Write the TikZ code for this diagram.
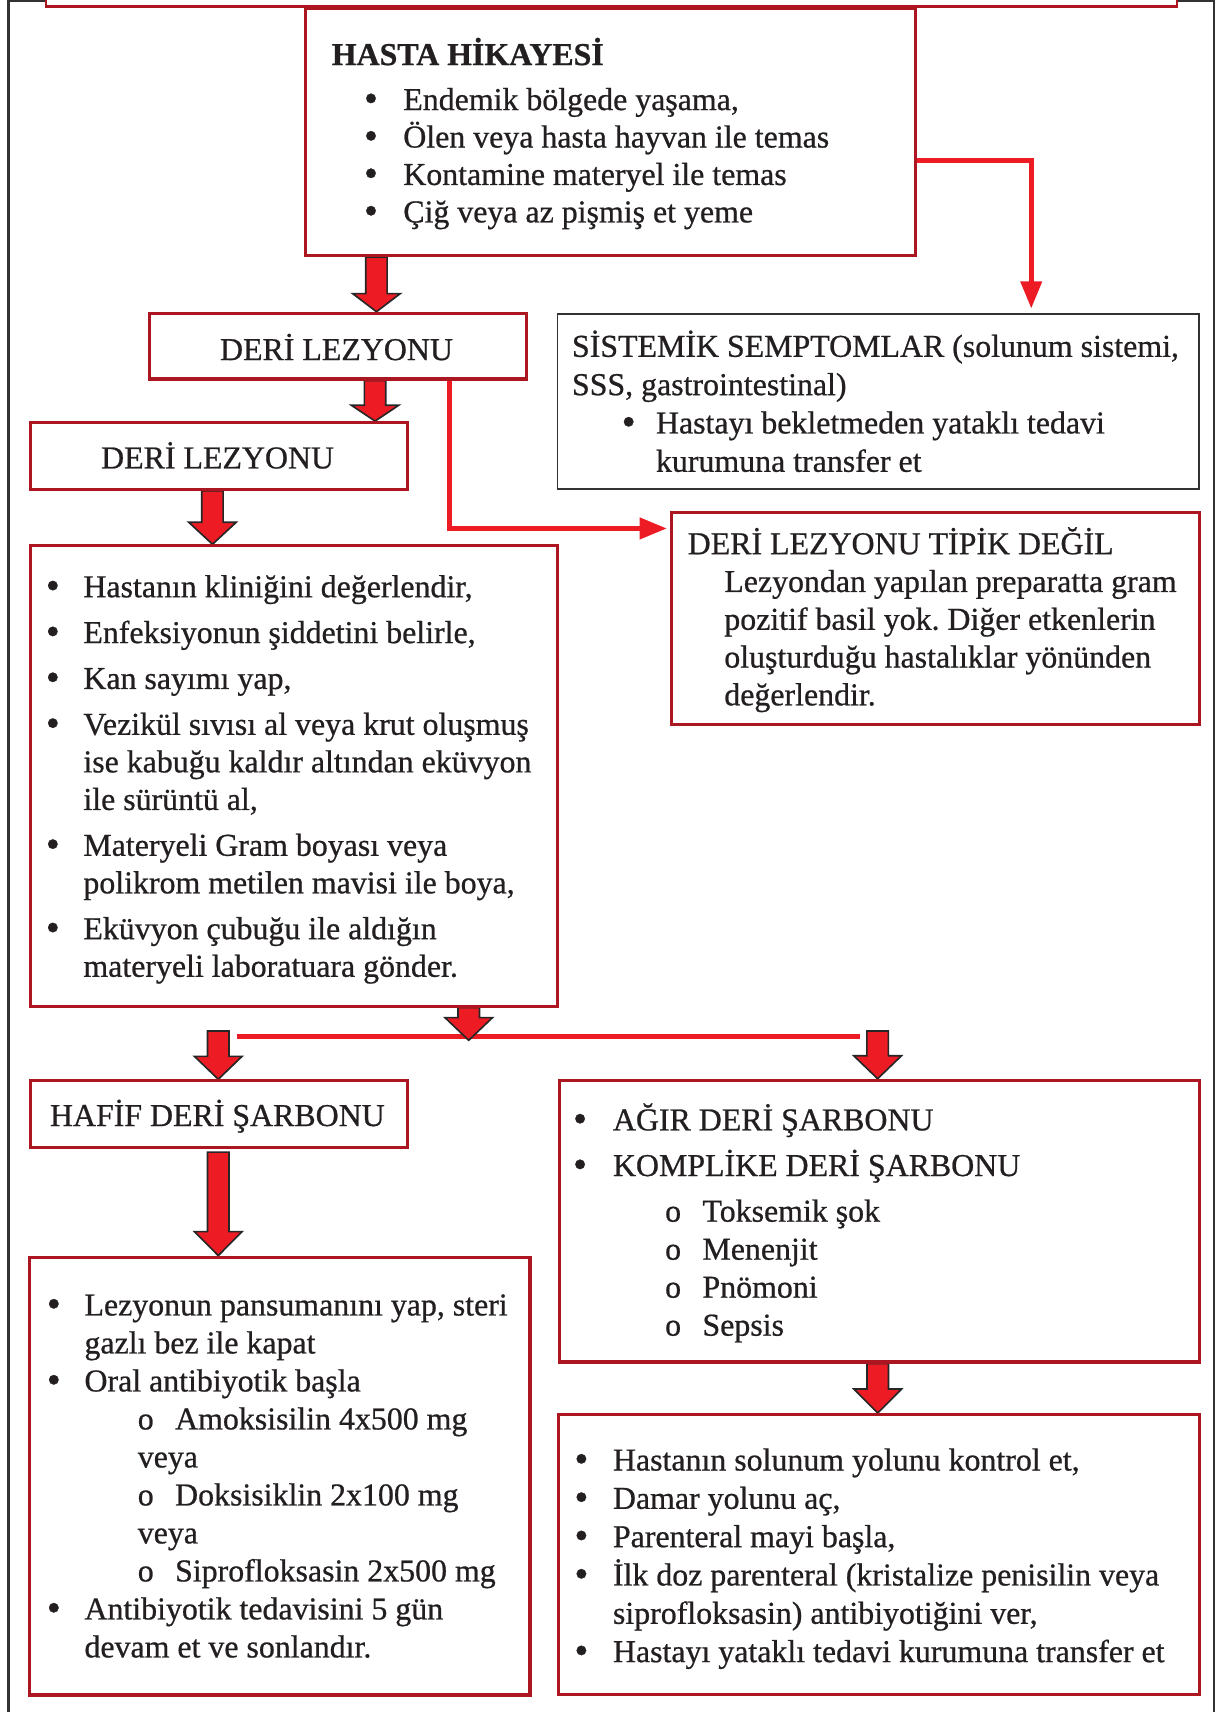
\documentclass[tikz,border=0pt]{standalone}
\usepackage{fontspec}
\usepackage{graphicx}
\setmainfont[FakeBold=0.7]{Liberation Serif}
\usetikzlibrary{arrows.meta,calc,backgrounds}
\definecolor{boxred}{RGB}{172,22,33}
\definecolor{arrowred}{RGB}{237,28,36}
\definecolor{textcol}{RGB}{35,31,32}
\definecolor{framegray}{RGB}{50,50,50}
\frenchspacing
\newcommand{\blt}[1][17.5pt]{\makebox[#1][l]{\raisebox{-0.7pt}{\scalebox{1.25}{•}}}}
\newcommand{\subit}[2][41.65pt]{\hspace*{#1}\makebox[17.1pt][l]{o}#2}
\newcommand{\lline}[1]{\hbox{#1}}
\newcommand{\gap}[1]{\vskip #1\relax}
\newcommand{\txtblock}[2]{\vtop{\fontsize{14.6pt}{#1}\selectfont\lineskiplimit=-100pt\lineskip=0pt\relax #2}}
\newcommand{\barrow}[3]{\filldraw[blockarrow] let \p1=#1, \p2=#2 in (\x1-4.9pt,\y1) -- (\x1-4.9pt,\y2+#3) -- (\x1-10.9pt,\y2+#3) -- (\x1,\y2) -- (\x1+10.9pt,\y2+#3) -- (\x1+4.9pt,\y2+#3) -- (\x1+4.9pt,\y1) -- cycle;}
\begin{document}
\begin{tikzpicture}[x=0.5pt,y=-0.5pt,
  rbox/.style={draw=boxred, line width=1.4pt, fill=white, inner sep=0pt, anchor=north west},
  gbox/.style={draw=framegray, line width=0.8pt, fill=white, inner sep=0pt, anchor=north west},
  txt/.style={inner sep=0pt, anchor=base west, text=textcol, font=\fontsize{14.6pt}{17.4pt}\selectfont},
  blockarrow/.style={fill=arrowred, draw=black!85, line width=0.75pt, line join=miter},
  conn/.style={draw=arrowred, line width=2.3pt, line join=miter, -{Triangle[length=12.5pt,width=9.5pt]}},
  forkline/.style={draw=arrowred, line width=2.5pt}]
\useasboundingbox (0,0) rectangle (1115,1568);
\clip (0,0) rectangle (1115,1568);

% boxes
\node[rbox, minimum width=279.5pt, minimum height=113pt] (hasta) at (278,6.7) {};
\node[rbox, minimum width=172.4pt, minimum height=30.1pt] (deri1) at (135.8,285.5) {};
\node[rbox, minimum width=172.7pt, minimum height=30.55pt] (deri2) at (26.6,385.7) {};
\node[gbox, minimum width=293.65pt, minimum height=80.2pt] (sis) at (509.7,287) {};
\node[rbox, minimum width=241.6pt, minimum height=97.1pt] (tipik) at (613.8,467.9) {};
\node[rbox, minimum width=241.2pt, minimum height=210.8pt] (big) at (26.6,498.5) {};
\node[rbox, minimum width=172.85pt, minimum height=30.55pt] (hafif) at (26.3,988.5) {};
\node[rbox, minimum width=293.45pt, minimum height=129pt] (agir) at (510.7,988) {};
\node[rbox, minimum width=229pt, minimum height=200.5pt] (bl) at (26,1150) {};
\node[rbox, minimum width=293.8pt, minimum height=128.3pt] (br) at (510,1294.2) {};

% coordinates for connectors
\coordinate (xa) at (344.8,0);
\coordinate (xb) at (343.5,0);
\coordinate (xc) at (194.6,0);
\coordinate (xd) at (429.3,0);
\coordinate (xh) at (803.9,0);
\coordinate (fdt) at (429.3,952.8);
\coordinate (fe) at (199.9,944.3);
\coordinate (ff) at (803.8,944.3);
\coordinate (gs) at (199.9,1055.2);
\coordinate (fl) at (217,949.2);
\coordinate (fr) at (788,949.2);
\coordinate (c1) at (944.5,147.2);
\coordinate (c2) at (412,484);

\begin{pgfonlayer}{background}
  \draw[framegray, line width=1.2pt] (7.6,0.9) rectangle (1112,1640);
  \draw[boxred, line width=1.3pt, fill=white] (42.1,-40) rectangle (1078,6.1);
  \draw[forkline] (fl) -- (fr);
  \barrow{(hasta.south -| xa)}{(deri1.north -| xa)}{8.3pt}
  \barrow{(deri1.south -| xb)}{(deri2.north -| xb)}{7.3pt}
  \barrow{(deri2.south -| xc)}{(big.north -| xc)}{10.1pt}
  \barrow{(big.south -| xd)}{(fdt)}{10.4pt}
  \barrow{(fe)}{(hafif.north -| fe)}{10.5pt}
  \barrow{(ff)}{(agir.north -| ff)}{10.5pt}
  \barrow{(gs)}{(bl.north -| gs)}{11pt}
  \barrow{(agir.south -| xh)}{(br.north -| xh)}{11pt}
\end{pgfonlayer}

% thin red connectors
\draw[conn] (hasta.east |- c1) -| ([yshift=2.2pt]sis.north -| c1);
\draw[conn] (deri1.south -| c2) |- ([xshift=-1.5pt]tipik.west |- c2);

% texts
\node[txt, font=\fontsize{14.6pt}{17.4pt}\selectfont\bfseries] (tHastaTitle) at (303.5,59.6) {HASTA HİKAYESİ};
\node[txt] (tHasta) at (333,100.8) {\txtblock{17.15pt}{%
\lline{\blt[18pt]Endemik bölgede yaşama,}
\lline{\blt[18pt]Ölen veya hasta hayvan ile temas}
\lline{\blt[18pt]Kontamine materyel ile temas}
\lline{\blt[18pt]Çiğ veya az pişmiş et yeme}}};

\node[txt, anchor=base] (tDeri1) at (308.2,329.8) {DERİ LEZYONU};
\node[txt, anchor=base] (tDeri2) at (199.3,429) {DERİ LEZYONU};

\node[txt] (tSis) at (523.5,326.8) {\txtblock{17.55pt}{%
\lline{SİSTEMİK SEMPTOMLAR (solunum sistemi,}
\lline{SSS, gastrointestinal)}
\lline{\hspace*{22.75pt}\blt[15.7pt]Hastayı bekletmeden yataklı tedavi}
\lline{\hspace*{38.45pt}kurumuna transfer et}}};

\node[txt] (tTipik) at (629.5,507.6) {\txtblock{17.3pt}{%
\lline{DERİ LEZYONU TİPİK DEĞİL}
\lline{\hspace*{16.75pt}Lezyondan yapılan preparatta gram}
\lline{\hspace*{16.75pt}pozitif basil yok. Diğer etkenlerin}
\lline{\hspace*{16.75pt}oluşturduğu hastalıklar yönünden}
\lline{\hspace*{16.75pt}değerlendir.}}};

\node[txt] (tBig) at (41.6,547) {\txtblock{17.2pt}{%
\lline{\blt[17.2pt]Hastanın kliniğini değerlendir,}\gap{3.8pt}
\lline{\blt[17.2pt]Enfeksiyonun şiddetini belirle,}\gap{3.8pt}
\lline{\blt[17.2pt]Kan sayımı yap,}\gap{3.8pt}
\lline{\blt[17.2pt]Vezikül sıvısı al veya krut oluşmuş}
\lline{\hspace*{17.2pt}ise kabuğu kaldır altından eküvyon}
\lline{\hspace*{17.2pt}ile sürüntü al,}\gap{3.8pt}
\lline{\blt[17.2pt]Materyeli Gram boyası veya}
\lline{\hspace*{17.2pt}polikrom metilen mavisi ile boya,}\gap{3.8pt}
\lline{\blt[17.2pt]Eküvyon çubuğu ile aldığın}
\lline{\hspace*{17.2pt}materyeli laboratuara gönder.}}};

\node[txt, anchor=base] (tHafif) at (199.1,1031.3) {HAFİF DERİ ŞARBONU};

\node[txt] (tAgir) at (524.5,1035.3) {\txtblock{17.4pt}{%
\lline{\blt[18.25pt]AĞIR DERİ ŞARBONU}\gap{3.5pt}
\lline{\blt[18.25pt]KOMPLİKE DERİ ŞARBONU}\gap{3.5pt}
\lline{\subit[42.15pt]{Toksemik şok}}
\lline{\subit[42.15pt]{Menenjit}}
\lline{\subit[42.15pt]{Pnömoni}}
\lline{\subit[42.15pt]{Sepsis}}}};

\node[txt] (tBl) at (42.5,1204.8) {\txtblock{17.4pt}{%
\lline{\blt[17.25pt]Lezyonun pansumanını yap, steri}
\lline{\hspace*{17.25pt}gazlı bez ile kapat}
\lline{\blt[17.25pt]Oral antibiyotik başla}
\lline{\subit{Amoksisilin 4x500 mg}}
\lline{\hspace*{41.65pt}veya}
\lline{\subit{Doksisiklin 2x100 mg}}
\lline{\hspace*{41.65pt}veya}
\lline{\subit{Siprofloksasin 2x500 mg}}
\lline{\blt[17.25pt]Antibiyotik tedavisini 5 gün}
\lline{\hspace*{17.25pt}devam et ve sonlandır.}}};

\node[txt] (tBr) at (525.7,1346.8) {\txtblock{17.55pt}{%
\lline{\blt[17.65pt]Hastanın solunum yolunu kontrol et,}
\lline{\blt[17.65pt]Damar yolunu aç,}
\lline{\blt[17.65pt]Parenteral mayi başla,}
\lline{\blt[17.65pt]İlk doz parenteral (kristalize penisilin veya}
\lline{\hspace*{17.65pt}siprofloksasin) antibiyotiğini ver,}
\lline{\blt[17.65pt]Hastayı yataklı tedavi kurumuna transfer et}}};
\end{tikzpicture}
\end{document}
